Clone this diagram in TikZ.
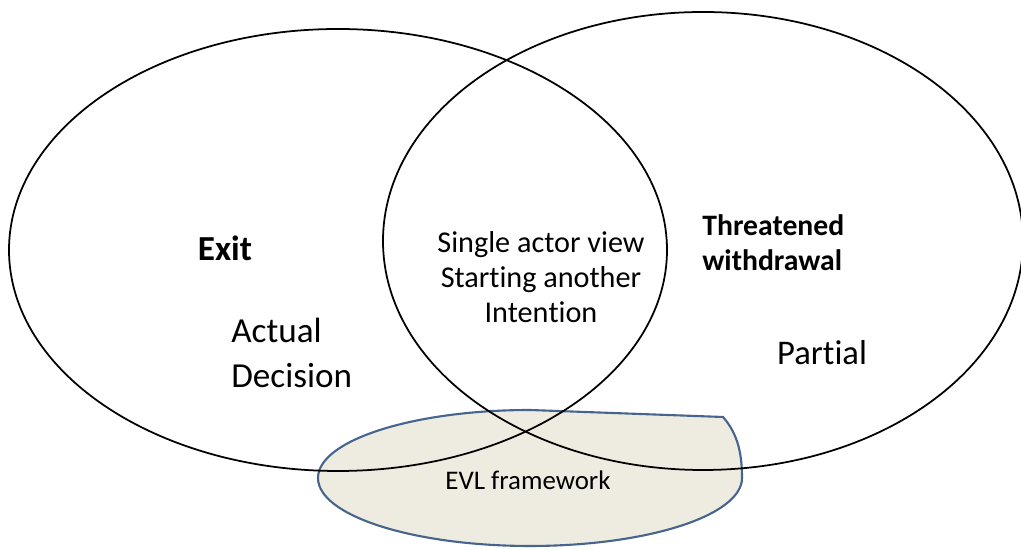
\documentclass[tikz,border=0pt]{standalone}
\usepackage{fontspec}
\setmainfont[Ligatures={NoCommon}]{Carlito}
\definecolor{evlfill}{RGB}{238,236,225}
\definecolor{evlline}{RGB}{70,100,142}
\begin{document}
\begin{tikzpicture}[x=0.02cm,y=0.02cm,
  set/.style={draw=black,line width=1pt},
  lbl/.style={inner sep=0pt,align=center}]
 \useasboundingbox (0,0) rectangle (1021,550);
 % shaded framework blob behind the two sets
 \filldraw[fill=evlfill,draw=evlline,line width=1.2pt]
   (742,72) arc[start angle=0,end angle=-180,x radius=212,y radius=68]
   arc[start angle=180,end angle=90,x radius=212,y radius=68]
   -- (723,133) .. controls (738,116) and (742,96) .. cycle;
 \draw[set] (338,300) ellipse[x radius=329,y radius=221];
 \draw[set] (703,309) ellipse[x radius=320,y radius=229];
 \node[lbl,font=\bfseries\fontsize{20}{24}\selectfont] (exit) at (225,302) {Exit};
 \node[lbl,align=left,anchor=west,font=\fontsize{20}{25.5}\selectfont] (actual) at (231,197)
   {Actual\\Decision};
 \node[lbl,font=\fontsize{17.2}{19.9}\selectfont] (middle) at (541,273)
   {Single actor view\\Star\kern0pt ting another\\Inten\kern0pt tion};
 \node[lbl,align=left,anchor=west,font=\bfseries\fontsize{16.9}{19.9}\selectfont] (threat) at (702,307)
   {Threatened\\withdrawal};
 \node[lbl,font=\fontsize{19.7}{24}\selectfont] (partial) at (822,197) {Partial};
 \node[lbl,font=\fontsize{15.3}{18}\selectfont] (evl) at (528,70) {EVL framework};
\end{tikzpicture}
\end{document}
